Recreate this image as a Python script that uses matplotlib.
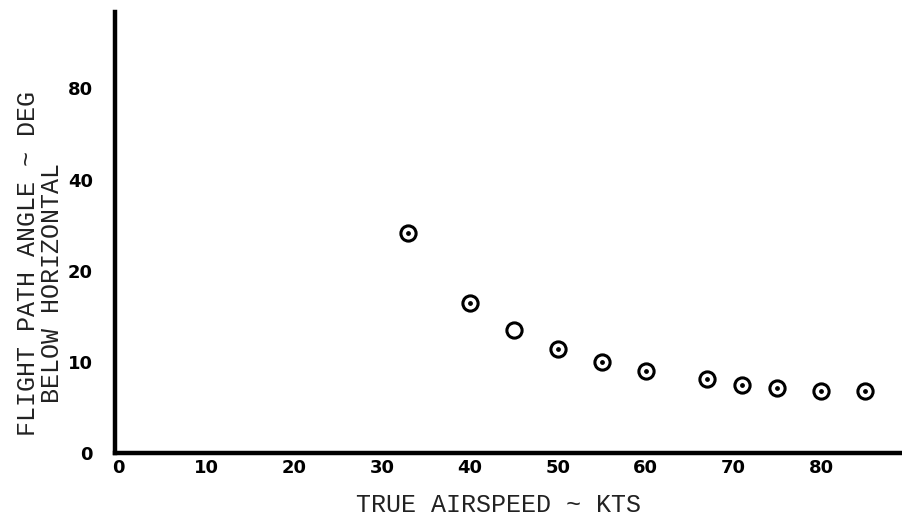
import matplotlib
matplotlib.use("Agg")
import matplotlib.pyplot as plt
from matplotlib.ticker import FixedLocator, FixedFormatter

# airspeed (kts) vs flight path angle (deg below horizontal)
airspeed = [33, 40, 45, 50, 55, 60, 67, 71, 75, 80, 85]
angle = [26.7, 15.7, 12.7, 11.0, 10.0, 9.3, 8.8, 8.4, 8.2, 8.0, 8.0]
has_dot = [True, True, False, True, True, True, True, True, True, True, True]

x_ticks = [0, 10, 20, 30, 40, 50, 60, 70, 80]
y_ticks = [5, 10, 20, 40, 80]          # log scale, bottom tick stands for zero
y_tick_labels = ['0', '10', '20', '40', '80']

fig = plt.figure(figsize=(9.02, 5.23), dpi=100)
ax = fig.add_axes([115/902, 70/523, 787/902, 441/523])

ax.set_yscale('log', base=2)
ax.set_xlim(-0.4, 89.2)
ax.set_ylim(5, 143)

ax.scatter(airspeed, angle, s=120, facecolors='white', edgecolors='black',
           linewidths=2.2, zorder=3)
ax.scatter([a for a, d in zip(airspeed, has_dot) if d],
           [v for v, d in zip(angle, has_dot) if d],
           s=6, color='black', zorder=4)

for side in ['top', 'right']:
    ax.spines[side].set_visible(False)
for side in ['left', 'bottom']:
    ax.spines[side].set_linewidth(3.2)

ax.xaxis.set_major_locator(FixedLocator(x_ticks))
ax.yaxis.set_major_locator(FixedLocator(y_ticks))
ax.yaxis.set_major_formatter(FixedFormatter(y_tick_labels))
ax.yaxis.set_minor_locator(FixedLocator([]))
ax.tick_params(length=0, labelsize=13)
ax.tick_params(axis='x', pad=4)
ax.tick_params(axis='y', pad=16)
for lab in ax.get_xticklabels() + ax.get_yticklabels():
    lab.set_fontweight('bold')

mono = dict(family='Liberation Mono', fontsize=18, color='#222222')
fig.text(498/902, 1 - 505/523, 'TRUE AIRSPEED ~ KTS', ha='center', va='center', **mono)
fig.text(28/902, 1 - 264/523, 'FLIGHT PATH ANGLE ~ DEG', rotation=90,
         ha='center', va='center', **mono)
fig.text(52/902, 1 - 283/523, 'BELOW HORIZONTAL', rotation=90,
         ha='center', va='center', **mono)

fig.savefig('out.png', dpi=100)
